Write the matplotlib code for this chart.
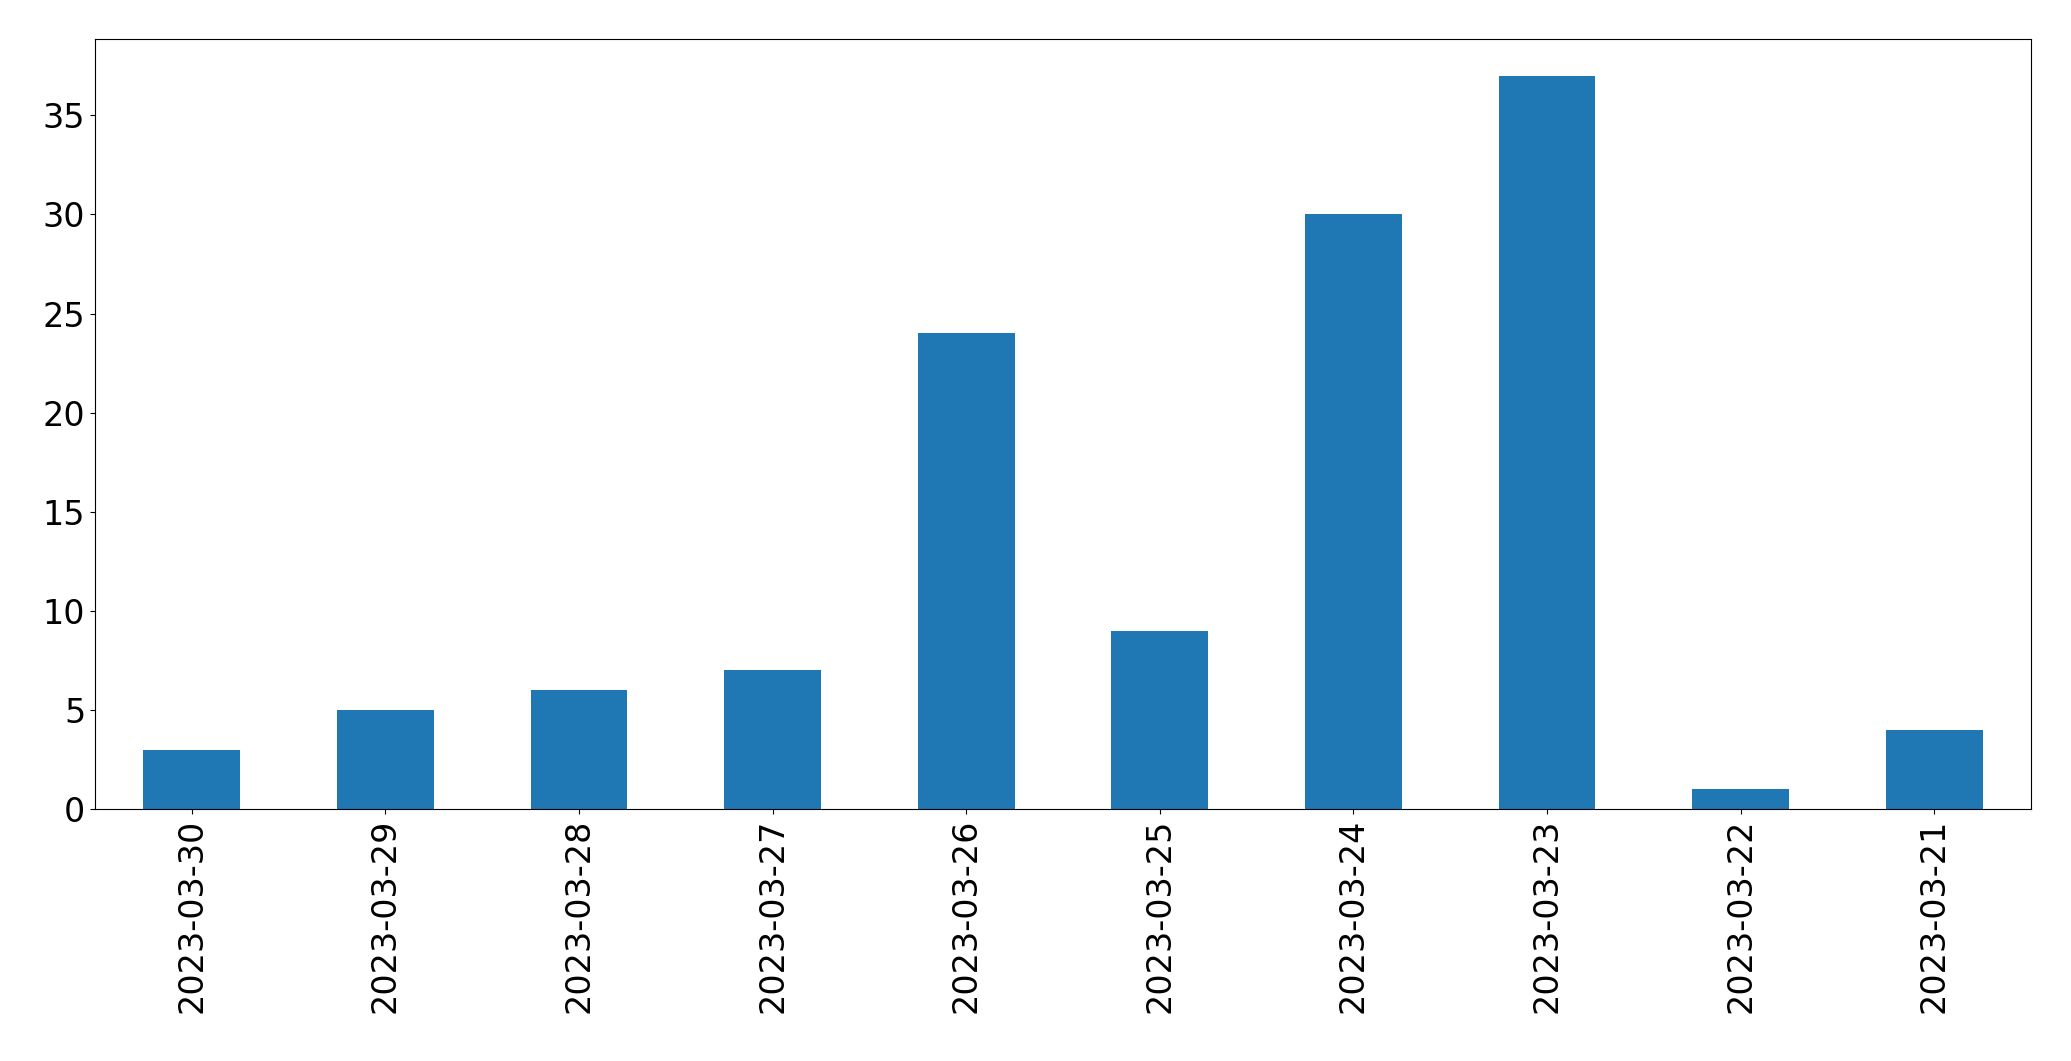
import matplotlib
matplotlib.use("Agg")
import matplotlib.pyplot as plt
import numpy as np

dates = ["2023-03-30", "2023-03-29", "2023-03-28", "2023-03-27", "2023-03-26",
         "2023-03-25", "2023-03-24", "2023-03-23", "2023-03-22", "2023-03-21"]
counts = [3, 5, 6, 7, 24, 9, 30, 37, 1, 4]

fig = plt.figure(figsize=(20.71, 10.61), dpi=100)
ax = fig.add_axes([0.0459, 0.2375, 0.9348, 0.7257])

x = np.arange(len(dates))
ax.bar(x, counts, width=0.5, color="#1f77b4")
ax.set_xlim(-0.5, len(dates) - 0.5)
ax.set_ylim(0, max(counts) * 1.05)
ax.set_xticks(x)
ax.set_xticklabels(dates, rotation=90)
ax.tick_params(labelsize=24)

fig.savefig("out.png", dpi=100)
